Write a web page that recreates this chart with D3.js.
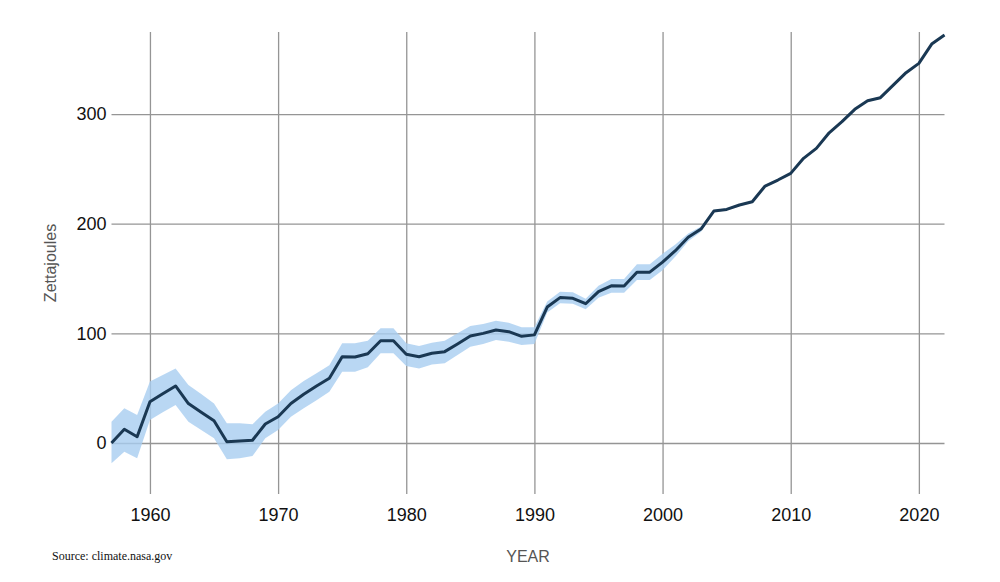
<!DOCTYPE html>
<html>
<head>
<meta charset="utf-8">
<script src="https://cdn.jsdelivr.net/npm/d3@7"></script>
<style>
  body { margin: 0; background: #fff; }
  svg { display: block; }
</style>
</head>
<body>
<div id="chart"></div>
<script>
// ocean heat content, zettajoules
const years = d3.range(1957, 2023);
const heat = [
  0, 12.5, 5.7, 37.7, 45, 52, 36, 28, 20.3, 1.2,
  1.8, 2.5, 17.3, 24, 36, 44.4, 52, 59, 78.7, 78.4,
  81.4, 93.3, 93.3, 80.9, 78.7, 81.8, 83.3, 90.3, 97.6, 100,
  103, 101.5, 97.3, 98.6, 124, 132.6, 132, 127, 138, 143.3,
  143.2, 155.8, 155.8, 165, 175.4, 187.6, 195.1, 211.5, 213, 217,
  220, 234.3, 239.8, 245.9, 259.6, 268.7, 282.9, 293, 304.3, 312.1,
  314.9, 326.4, 337.7, 346.2, 363.8, 372
];
const heatUpper = [
  19.4, 31.6, 25.5, 56, 62, 68, 53, 44.7, 36, 18,
  18, 17, 28.5, 36, 48, 56.5, 63.5, 71, 91, 91,
  93.3, 104.6, 104.6, 91, 88.4, 91.5, 93.3, 100, 106.7, 108.5,
  111.5, 109.7, 105.5, 105.5, 129, 138, 137.5, 131.5, 143.5, 149.5,
  149.5, 163, 163, 172.5, 181, 191, 197.5, 212.5, 214, 218,
  221, 235.3, 240.8, 246.9, 260.6, 269.7, 283.9, 294, 305.3, 313.1,
  315.9, 327.4, 338.7, 347.2, 364.8, 373
];
const heatLower = [
  -18.5, -7.9, -14, 21, 28, 34.7, 19.4, 11.9, 4.3, -14.9,
  -14, -11.9, 4.3, 11.9, 24, 31.6, 39, 46.8, 65, 65,
  69, 81.8, 81.8, 70.2, 68, 71.7, 72.7, 80.2, 87.8, 90.3,
  94, 92.4, 89.4, 90.3, 119, 127.5, 127, 122, 132.5, 137,
  137, 148.6, 148.6, 157.5, 170, 184, 192.7, 210.5, 212, 216,
  219, 233.3, 238.8, 244.9, 258.6, 267.7, 281.9, 292, 303.3, 311.1,
  313.9, 325.4, 336.7, 345.2, 362.8, 371
];
const xTicks = [1960, 1970, 1980, 1990, 2000, 2010, 2020];
const yTicks = [0, 100, 200, 300];

const width = 1000, height = 582;
const plotLeft = 111.5, plotRight = 944.5, plotTop = 32, plotBottom = 494;

const svg = d3.select("#chart").append("svg")
    .attr("width", width)
    .attr("height", height);

const x = d3.scaleLinear().domain([1957, 2022]).range([plotLeft, plotRight]);
const y = d3.scaleLinear().domain([-46.5, 374.8]).range([plotBottom, plotTop]);

// grid + tick labels
const xAxis = svg.append("g")
    .attr("transform", `translate(0,${plotBottom})`)
    .call(d3.axisBottom(x).tickValues(xTicks).tickFormat(d3.format("d"))
        .tickSize(-(plotBottom - plotTop)).tickPadding(14));
const yAxis = svg.append("g")
    .attr("transform", `translate(${plotLeft},0)`)
    .call(d3.axisLeft(y).tickValues(yTicks).tickSize(-(plotRight - plotLeft)).tickPadding(5));

[xAxis, yAxis].forEach(g => {
    g.select(".domain").remove();
    g.selectAll(".tick line").attr("stroke", "#959595").attr("stroke-width", 1.3);
    g.selectAll(".tick text")
        .attr("fill", "#111")
        .style("font-family", "'Liberation Sans', Arial, Helvetica, sans-serif")
        .style("font-size", "18px");
});

const rows = years.map((yr, i) => ({ year: yr, v: heat[i], lo: heatLower[i], hi: heatUpper[i] }));

// uncertainty band
svg.append("path")
    .datum(rows)
    .attr("fill", "#a8cdf0")
    .attr("fill-opacity", 0.8)
    .attr("d", d3.area()
        .x(d => x(d.year))
        .y0(d => y(d.lo))
        .y1(d => y(d.hi)));

// main line
svg.append("path")
    .datum(rows)
    .attr("fill", "none")
    .attr("stroke", "#1a3853")
    .attr("stroke-width", 3)
    .attr("stroke-linejoin", "round")
    .attr("d", d3.line()
        .x(d => x(d.year))
        .y(d => y(d.v)));

// axis titles
svg.append("text")
    .attr("transform", "translate(52,263) rotate(-90)")
    .attr("text-anchor", "middle")
    .attr("dominant-baseline", "middle")
    .attr("fill", "#555")
    .style("font-family", "'Liberation Sans', Arial, sans-serif")
    .style("font-size", "16px")
    .text("Zettajoules");

svg.append("text")
    .attr("x", 528)
    .attr("y", 562)
    .attr("text-anchor", "middle")
    .attr("fill", "#555")
    .style("font-family", "'Liberation Sans', Arial, sans-serif")
    .style("font-size", "16px")
    .text("YEAR");

svg.append("text")
    .attr("x", 52)
    .attr("y", 560)
    .attr("fill", "#111")
    .style("font-family", "'Liberation Serif', 'Times New Roman', serif")
    .style("font-size", "12px")
    .text("Source: climate.nasa.gov");
</script>
</body>
</html>
